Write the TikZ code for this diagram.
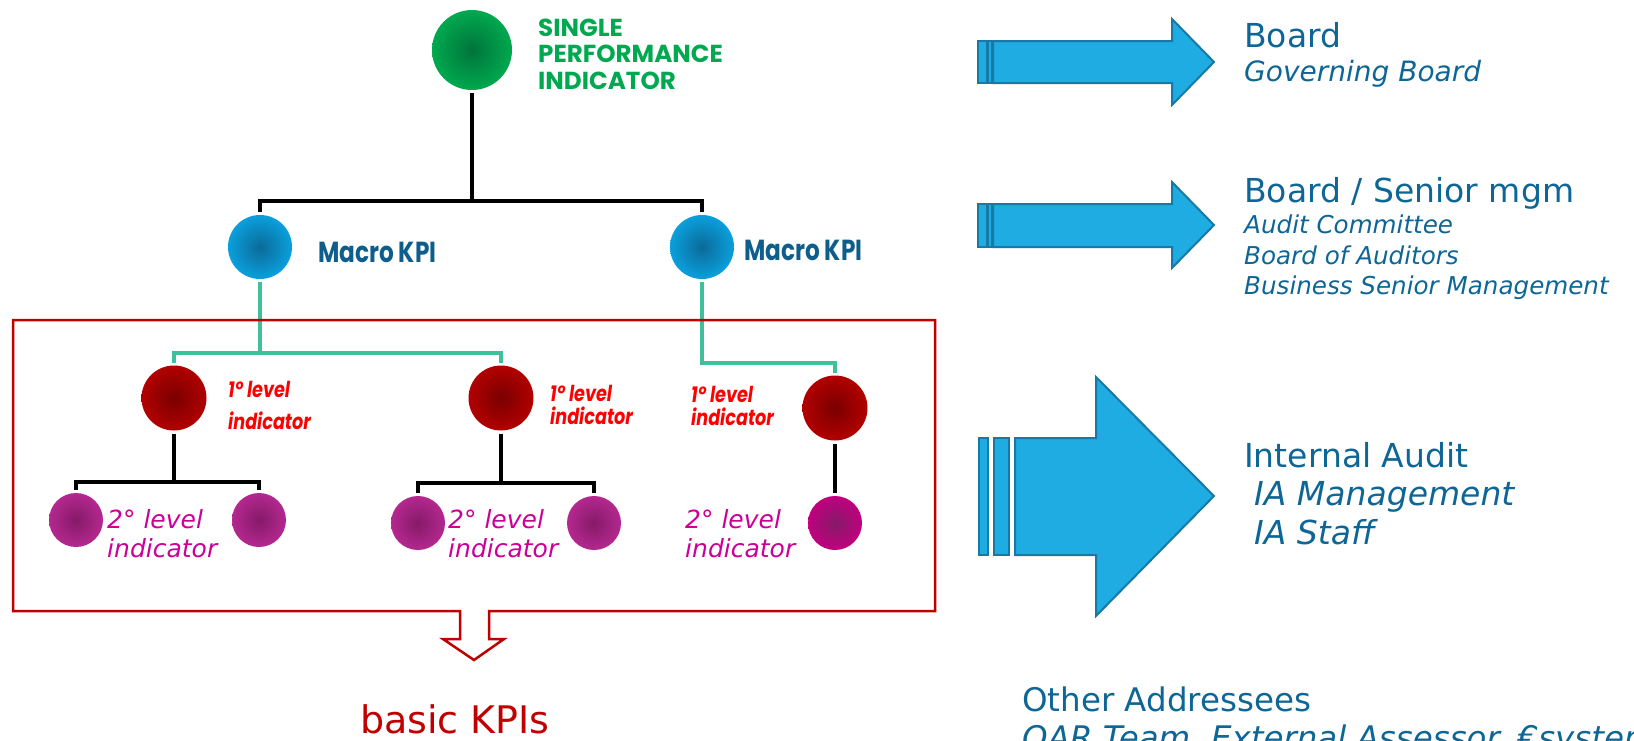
\documentclass[tikz,border=0pt]{standalone}
\usepackage{fontspec}
\setmainfont{DejaVu Sans}
\newfontfamily\geofont{Poppins}
\newfontfamily\geonarrow[FakeStretch=0.8]{Poppins}
\usetikzlibrary{positioning}

\definecolor{spigreen}{HTML}{00A94F}
\definecolor{spidark}{HTML}{00743A}
\definecolor{macblue}{HTML}{0AA0DD}
\definecolor{macdark}{HTML}{0B6A98}
\definecolor{mactext}{HTML}{0E5E8C}
\definecolor{lvred}{HTML}{B20000}
\definecolor{lvdark}{HTML}{7A0000}
\definecolor{lvtext}{HTML}{FF0000}
\definecolor{sbpurple}{HTML}{B4288F}
\definecolor{sbdark}{HTML}{851A68}
\definecolor{sbpink}{HTML}{C0007F}
\definecolor{sbtext}{HTML}{CC0099}
\definecolor{teal}{HTML}{3FBF9A}
\definecolor{boxred}{HTML}{C00000}
\definecolor{arrfill}{HTML}{1FACE2}
\definecolor{arrline}{HTML}{1779A6}
\definecolor{addr}{HTML}{0D6696}

\begin{document}
\begin{tikzpicture}[x=1pt,y=-1pt,
  ball/.style={circle,minimum size=#1,inner sep=0pt,outer sep=3pt},
  tree/.style={line width=3.2pt},
  lab/.style={inner sep=0pt,anchor=base west},
  blockarrow/.style={fill=arrfill,draw=arrline,line width=2pt,line join=miter}]
  \useasboundingbox (0,0) rectangle (1634,740);
  \clip (0,0) rectangle (1634,740);

  % tree of indicators
  \node[ball=80pt,inner color=spidark,outer color=spigreen] (spi) at (472,50) {};
  \node[ball=64pt,inner color=macdark,outer color=macblue] (macA) at (260,247) {};
  \node[ball=64pt,inner color=macdark,outer color=macblue] (macB) at (702,247) {};
  \node[ball=65pt,inner color=lvdark,outer color=lvred] (lvA) at (174,398) {};
  \node[ball=65pt,inner color=lvdark,outer color=lvred] (lvB) at (501,398) {};
  \node[ball=65pt,inner color=lvdark,outer color=lvred] (lvC) at (835,408) {};
  \node[ball=54pt,inner color=sbdark,outer color=sbpurple] (sbA1) at (76,520) {};
  \node[ball=54pt,inner color=sbdark,outer color=sbpurple] (sbA2) at (259,520) {};
  \node[ball=54pt,inner color=sbdark,outer color=sbpurple] (sbB1) at (418,523) {};
  \node[ball=54pt,inner color=sbdark,outer color=sbpurple] (sbB2) at (594,523) {};
  \node[ball=54pt,inner color=sbdark,outer color=sbpink] (sbC) at (835,523) {};

  \coordinate (j0) at (472,201);
  \coordinate (jA) at (260,353);
  \coordinate (jB) at (835,363);
  \coordinate (jA2) at (174,482);
  \coordinate (jB2) at (501,483);

  \draw[tree] (spi.south) -- (j0);
  \draw[tree] (macA.north) |- (j0) -| (macB.north);
  \draw[tree,teal] (macA.south) -- (jA);
  \draw[tree,teal] (lvA.north) |- (jA) -| (lvB.north);
  \draw[tree,teal] (macB.south) |- (jB) -- (lvC.north);
  \draw[tree] (lvA.south) -- (jA2);
  \draw[tree] (sbA1.north) |- (jA2) -| (sbA2.north);
  \draw[tree] (lvB.south) -- (jB2);
  \draw[tree] (sbB1.north) |- (jB2) -| (sbB2.north);
  \draw[tree] (lvC.south) -- (sbC.north);

  % labels
  \node[inner sep=0pt,anchor=west,align=left,text=spigreen,
    font=\geofont\bfseries\fontsize{24.6}{26.5}\selectfont] (spitxt) at (538,54)
    {SINGLE\\PERFORMANCE\\INDICATOR};
  \node[lab,text=mactext,font=\geonarrow\bfseries\fontsize{29}{32}\selectfont] (macAtxt) at (318,262) {Macro KPI};
  \node[lab,text=mactext,font=\geonarrow\bfseries\fontsize{29}{32}\selectfont] (macBtxt) at (744,260) {Macro KPI};
  \foreach \n/\x/\ya/\yb in {A/228/397/429, B/550/401/424, C/691/402/425} {
    \node[lab,text=lvtext,font=\geonarrow\bfseries\itshape\fontsize{22}{24}\selectfont] (lv\n txt) at (\x,\ya) {1° level};
    \node[lab,text=lvtext,font=\geonarrow\bfseries\itshape\fontsize{22}{24}\selectfont] (lv\n txtb) at (\x,\yb) {indicator};
  }
  \foreach \n/\x in {A/107, B/448, C/685} {
    \node[lab,text=sbtext,font=\itshape\fontsize{25}{29}\selectfont] (sb\n txt) at (\x,528) {2° level};
    \node[lab,text=sbtext,font=\itshape\fontsize{25}{29}\selectfont] (sb\n txtb) at (\x,557) {indicator};
  }

  % basic KPIs frame
  \draw[boxred,line width=2.5pt,line join=miter,fill=none]
    (460,611) -- (13,611) -- (13,320) -- (935,320) -- (935,611) -- (489,611)
    -- (489,639) -- (504,639) -- (474,660) -- (443,639) -- (460,639) -- cycle;
  \node[lab,text=boxred,font=\fontsize{38}{44}\selectfont] (basic) at (360,733) {basic KPIs};

  % addressees
  \fill[blockarrow] (978,41) rectangle (987,83);
  \fill[blockarrow] (988,41) rectangle (992,83);
  \draw[blockarrow] (993,41) -- (1172,41) -- (1172,19) -- (1214,62) -- (1172,105) -- (1172,83) -- (993,83) -- cycle;
  \fill[blockarrow] (978,204) rectangle (987,247);
  \fill[blockarrow] (988,204) rectangle (992,247);
  \draw[blockarrow] (993,204) -- (1172,204) -- (1172,182) -- (1214,225) -- (1172,268) -- (1172,247) -- (993,247) -- cycle;
  \draw[blockarrow] (979,438) rectangle (988,555);
  \draw[blockarrow] (994,438) rectangle (1009,555);
  \draw[blockarrow] (1015,438) -- (1096,438) -- (1096,377) -- (1214,496) -- (1096,616) -- (1096,555) -- (1015,555) -- cycle;

  \node[lab,text=addr,font=\fontsize{33}{38}\selectfont] (board) at (1244,47) {Board};
  \node[lab,text=addr,font=\itshape\fontsize{28}{32}\selectfont] (govboard) at (1244,81) {Governing Board};
  \node[lab,text=addr,font=\fontsize{33}{38}\selectfont] (senior) at (1244,202) {Board / Senior mgm};
  \node[lab,text=addr,font=\itshape\fontsize{24.6}{28}\selectfont] (auditcom) at (1244,233) {Audit Committee};
  \node[lab,text=addr,font=\itshape\fontsize{24.6}{28}\selectfont] (auditors) at (1244,264) {Board of Auditors};
  \node[lab,text=addr,font=\itshape\fontsize{24.6}{28}\selectfont] (bizmgm) at (1244,294) {Business Senior Management};
  \node[lab,text=addr,font=\fontsize{33}{38}\selectfont] (ia) at (1244,467) {Internal Audit};
  \node[lab,text=addr,font=\itshape\fontsize{33}{38}\selectfont] (iamgm) at (1254,505) {IA Management};
  \node[lab,text=addr,font=\itshape\fontsize{33}{38}\selectfont] (iastaff) at (1254,544) {IA Staff};
  \node[lab,text=addr,font=\fontsize{32.5}{38}\selectfont] (other) at (1022,711) {Other Addressees};
  \node[lab,text=addr,font=\itshape\fontsize{32.5}{38}\selectfont] (othertxt) at (1022,749) {QAR Team, External Assessor, €system};
\end{tikzpicture}
\end{document}
